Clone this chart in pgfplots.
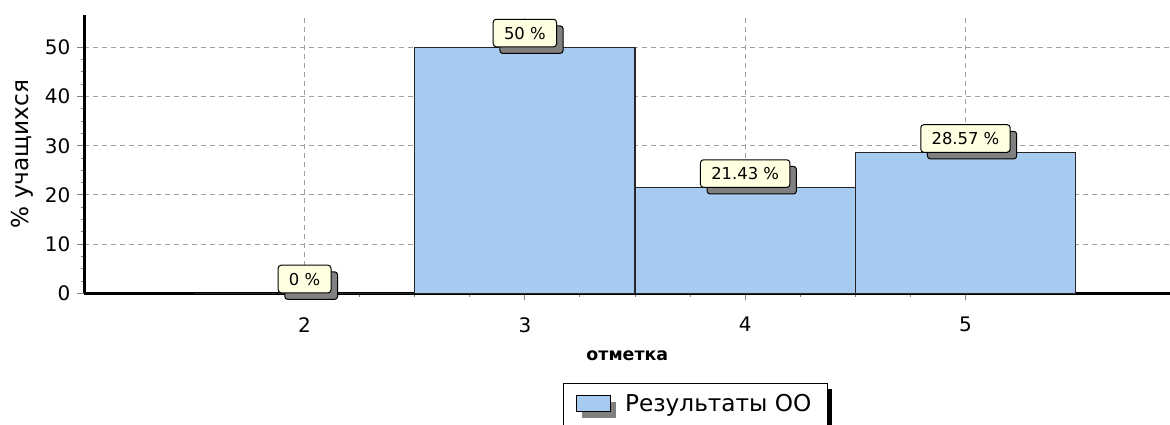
\documentclass[border=0pt]{standalone}
\usepackage{pgfplots}
\pgfplotsset{compat=1.18}
\usepackage{fontspec}
\setmainfont{DejaVu Sans}
\usetikzlibrary{shadows}

\definecolor{barblue}{RGB}{166,202,240}
\definecolor{tipyellow}{RGB}{255,255,225}
\definecolor{shadowgray}{RGB}{128,128,128}
\definecolor{gridgray}{RGB}{160,160,160}

\begin{document}
\begin{tikzpicture}
% page size = 1170x424 px at 0.5pt per px
\useasboundingbox (-42.15pt,-65.35pt) rectangle (542.85pt,146.65pt);
\begin{axis}[
  scale only axis,
  width=543pt, height=139.2pt,
  xmin=1, xmax=5.93,
  ymin=0, ymax=56.6,
  axis x line*=bottom, axis y line*=left,
  axis line style={line width=1.3pt, black},
  xtick={2,3,4,5},
  ytick={0,10,...,50},
  minor x tick num=3,
  minor y tick num=3,
  tick align=outside,
  major tick length=3.5pt, minor tick length=1.8pt,
  tick style={shadowgray, line width=0.5pt},
  grid=major,
  major grid style={gridgray, line width=0.5pt, dash pattern=on 2.5pt off 2pt},
  /pgf/number format/assume math mode=true,
  tick label style={font=\fontsize{10}{12}\selectfont},
  xticklabel shift=5pt,
  yticklabel shift=0pt,
  xlabel={отметка},
  xlabel style={at={(axis description cs:0.5,-0.2227)}, anchor=center,
    font=\bfseries\fontsize{8.7}{10}\selectfont},
  ylabel={\% учащихся},
  ylabel style={at={(axis description cs:-0.0571,0.5)}, anchor=center,
    font=\fontsize{11.6}{13}\selectfont},
  ybar, bar width=1,
  nodes near coords={\pgfmathprintnumber{\pgfplotspointmeta} \%},
  every node near coord/.append style={
    font=\fontsize{8.2}{10}\selectfont, text=black,
    draw=black, line width=0.5pt, fill=tipyellow, rounded corners=1.5pt,
    inner xsep=5.4pt, inner ysep=3.9pt, text height=6pt, text depth=0pt,
    anchor=south,
    drop shadow={shadow xshift=3.3pt, shadow yshift=-3.3pt, fill=shadowgray, opacity=1}},
  legend style={at={(axis description cs:0.4408,-0.3226)}, anchor=north west,
    draw=black, line width=0.5pt, fill=white,
    drop shadow={shadow xshift=2.5pt, shadow yshift=-2.5pt, fill=black, opacity=1},
    font=\fontsize{11.6}{13}\selectfont,
    inner xsep=6pt, inner ysep=3pt,
    nodes={text height=9pt, text depth=8pt},
    /tikz/every odd column/.append style={column sep=2.5pt}},
  % basic-layer drawing, so the legend's shadow does not reach the sample
  legend image code/.code={
    \pgfsetfillcolor{shadowgray}
    \pgfpathrectangle{\pgfpoint{3pt}{-3.5pt}}{\pgfpoint{17pt}{8pt}}
    \pgfusepath{fill}
    \pgfsetfillcolor{barblue}\pgfsetstrokecolor{black}\pgfsetlinewidth{0.6pt}
    \pgfpathrectangle{\pgfpoint{0pt}{-0.5pt}}{\pgfpoint{17pt}{8pt}}
    \pgfusepath{fill,stroke}
  },
]
\addplot[fill=barblue, draw=black!85, line width=0.6pt]
  coordinates {(2,0) (3,50) (4,21.43) (5,28.57)};
\addlegendentry{Результаты ОО}
\end{axis}
\end{tikzpicture}
\end{document}
